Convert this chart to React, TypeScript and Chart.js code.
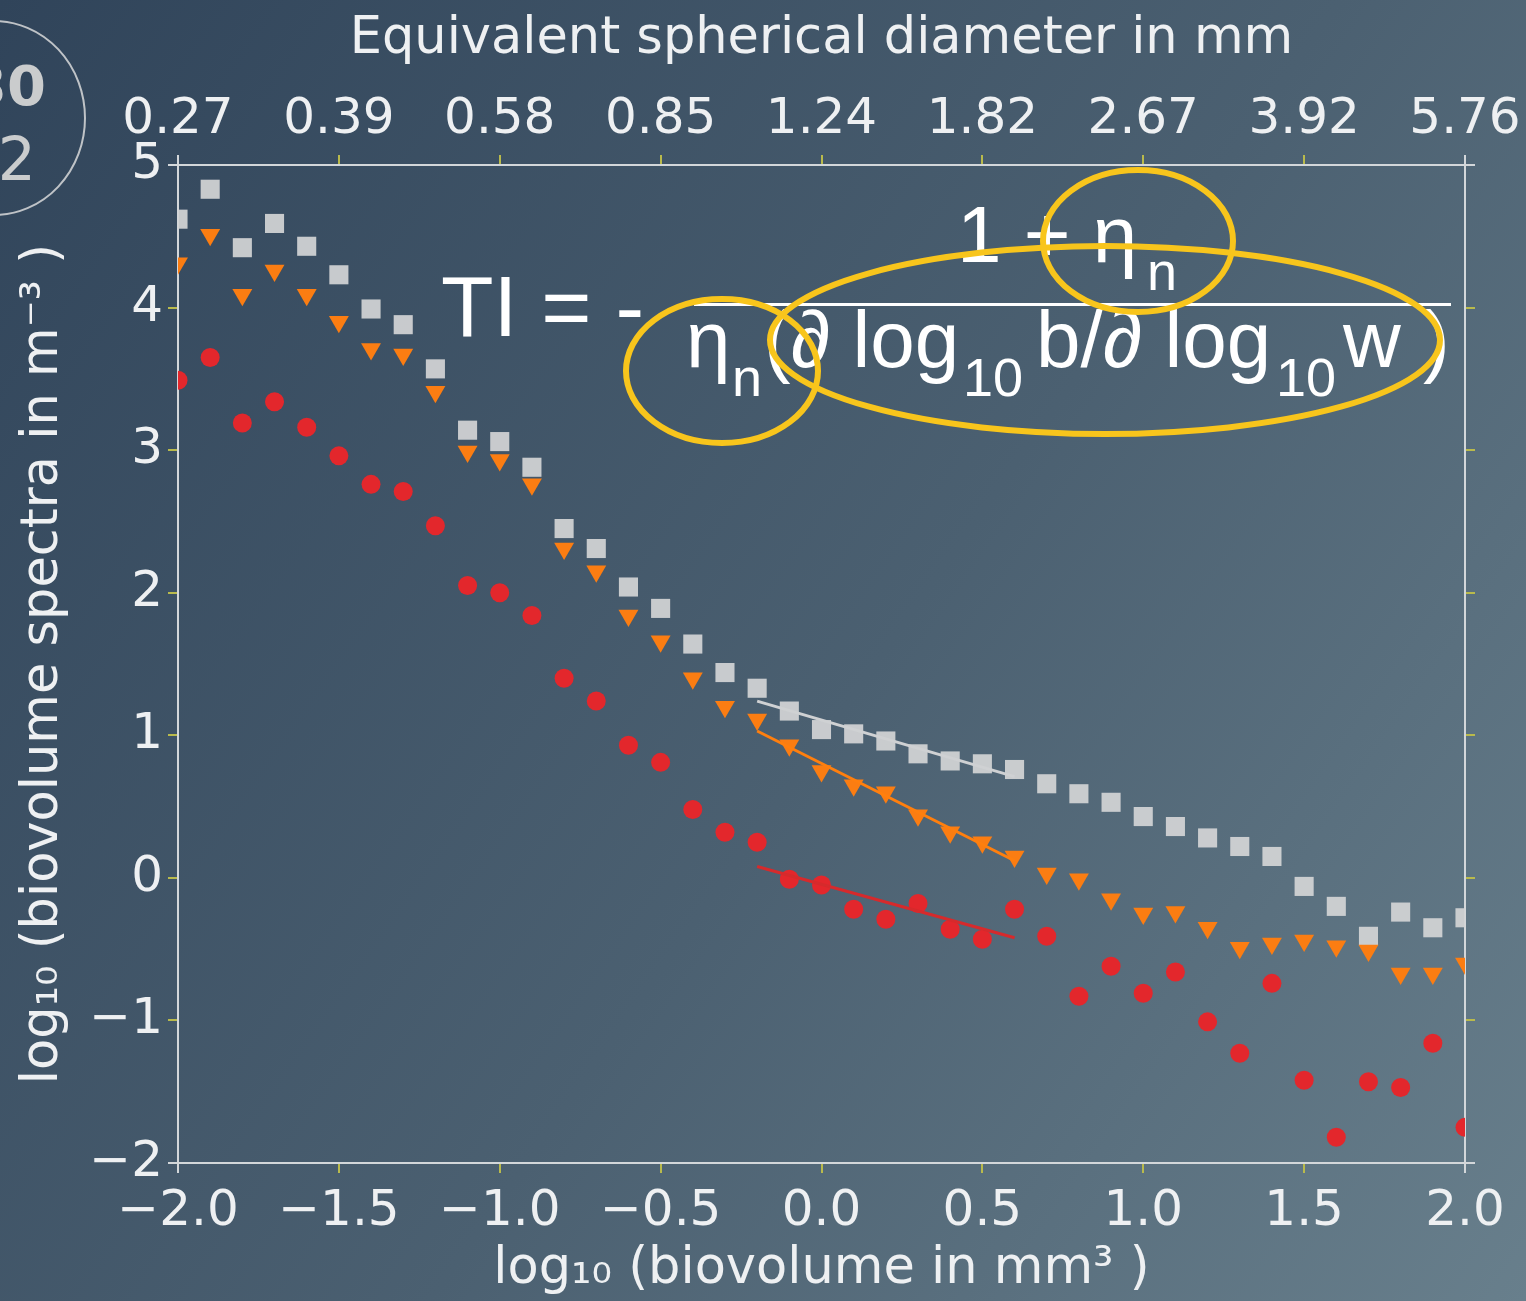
import React, { useEffect, useRef } from "react";
import { Chart, registerables } from "chart.js";

Chart.register(...registerables);

// ---------- data ----------
const xValues = [
  -2.0, -1.9, -1.8, -1.7, -1.6, -1.5, -1.4, -1.3, -1.2, -1.1, -1.0,
  -0.9, -0.8, -0.7, -0.6, -0.5, -0.4, -0.3, -0.2, -0.1, 0.0,
  0.1, 0.2, 0.3, 0.4, 0.5, 0.6, 0.7, 0.8, 0.9, 1.0,
  1.1, 1.2, 1.3, 1.4, 1.5, 1.6, 1.7, 1.8, 1.9, 2.0,
];

const graySeries = [
  4.62, 4.83, 4.42, 4.59, 4.43, 4.23, 3.99, 3.88, 3.57, 3.14, 3.06,
  2.88, 2.45, 2.31, 2.04, 1.89, 1.64, 1.44, 1.33, 1.17, 1.04,
  1.01, 0.96, 0.87, 0.82, 0.80, 0.76, 0.66, 0.59, 0.53, 0.43,
  0.36, 0.28, 0.22, 0.15, -0.06, -0.20, -0.41, -0.24, -0.35, -0.28,
];

const orangeSeries = [
  4.31, 4.51, 4.09, 4.26, 4.09, 3.90, 3.71, 3.67, 3.41, 2.99, 2.93,
  2.76, 2.31, 2.15, 1.84, 1.66, 1.40, 1.20, 1.11, 0.93, 0.75,
  0.65, 0.60, 0.44, 0.32, 0.25, 0.15, 0.03, -0.01, -0.15, -0.25,
  -0.24, -0.35, -0.49, -0.46, -0.44, -0.48, -0.51, -0.67, -0.67, -0.60,
];

const redSeries = [
  3.49, 3.65, 3.19, 3.34, 3.16, 2.96, 2.76, 2.71, 2.47, 2.05, 2.00,
  1.84, 1.40, 1.24, 0.93, 0.81, 0.48, 0.32, 0.25, -0.01, -0.05,
  -0.22, -0.29, -0.18, -0.36, -0.43, -0.22, -0.41, -0.83, -0.62, -0.81,
  -0.66, -1.01, -1.23, -0.74, -1.42, -1.82, -1.43, -1.47, -1.16, -1.75,
];

const fitX = [-0.2, 0.6];
const grayFit = [1.24, 0.71];
const orangeFit = [1.03, 0.12];
const redFit = [0.08, -0.42];

const topTickLabels = ["0.27", "0.39", "0.58", "0.85", "1.24", "1.82", "2.67", "3.92", "5.76"];

const bottomTitle = "log\u2081\u2080 (biovolume in mm\u00b3 )";
const leftTitle = "log\u2081\u2080 (biovolume spectra in m\u207b\u00b3 )";
const topTitle = "Equivalent spherical diameter in mm";

// ---------- helpers ----------
const W = 1526;
const H = 1301;
const TEXT = "#eef0f2";
const SPINE = "#d3d7da";
const TICK_Y = "#b9ba4c";
const FORMULA_FONT = '"Liberation Sans", Arial, sans-serif';

const minusFmt = (v: number, digits: number) => {
  const s = Math.abs(v).toFixed(digits);
  return v < -1e-9 ? "\u2212" + s : s;
};

const pts = (xs: number[], ys: number[]) => xs.map((x, i) => ({ x, y: ys[i] }));

// runs: [text, subscript?, x-start]
function drawRuns(
  ctx: CanvasRenderingContext2D,
  y: number,
  runs: [string, boolean, number][],
  mainSize: number,
  subSize: number,
  subDrop: number
) {
  for (const [t, sub, x] of runs) {
    ctx.font = `${sub ? subSize : mainSize}px ${FORMULA_FONT}`;
    ctx.fillText(t, x, sub ? y + subDrop : y);
  }
}

function ellipse(ctx: CanvasRenderingContext2D, cx: number, cy: number, rx: number, ry: number) {
  ctx.beginPath();
  ctx.ellipse(cx, cy, rx, ry, 0, 0, Math.PI * 2);
  ctx.stroke();
}

const overlayPlugin = {
  id: "overlay",
  afterDraw(chart: any) {
    const ctx: CanvasRenderingContext2D = chart.ctx;
    ctx.save();
    ctx.textBaseline = "alphabetic";
    ctx.textAlign = "left";

    // badge top-left
    ctx.strokeStyle = "#bfc3c7";
    ctx.lineWidth = 2;
    ellipse(ctx, -6, 118, 91, 97);
    ctx.fillStyle = "#cacccd";
    ctx.textAlign = "right";
    ctx.font = 'bold 56px "DejaVu Sans", sans-serif';
    ctx.fillText("30", 46, 105);
    ctx.font = '60px "DejaVu Sans", sans-serif';
    ctx.fillText("2", 36, 180);
    ctx.textAlign = "left";

    // formula
    ctx.fillStyle = "#ffffff";
    ctx.font = `86px ${FORMULA_FONT}`;
    ctx.fillText("TI = -", 441, 336);
    drawRuns(ctx, 262, [["1 + \u03b7", false, 957], ["n", true, 1147]], 80, 54, 28);
    ctx.fillRect(694, 303, 757, 3);
    drawRuns(
      ctx,
      367,
      [
        ["\u03b7", false, 686],
        ["n", true, 732],
        ["(\u2202 log", false, 764],
        ["10", true, 963],
        ["b/\u2202 log", false, 1036],
        ["10", true, 1276],
        ["w )", false, 1343],
      ],
      80,
      54,
      29
    );

    // yellow ellipses
    ctx.strokeStyle = "#f8c51c";
    ctx.lineWidth = 6;
    ellipse(ctx, 1105, 340, 335, 94);
    ellipse(ctx, 1138, 241, 95, 71);
    ellipse(ctx, 722, 371, 96, 72);

    ctx.restore();
  },
};

const tickColor = (c: any) => {
  const n = c.scale && c.scale.ticks ? c.scale.ticks.length : 0;
  return c.index === 0 || c.index === n - 1 ? SPINE : TICK_Y;
};

export default function App() {
  const ref = useRef<HTMLCanvasElement | null>(null);

  useEffect(() => {
    if (!ref.current) return;
    const tickFont = { family: '"DejaVu Sans", sans-serif', size: 50 };
    const titleFont = { family: '"DejaVu Sans", sans-serif', size: 51 };
    const grid = {
      drawOnChartArea: false,
      drawTicks: true,
      tickLength: 10,
      lineWidth: 2,
      color: TICK_Y,
      tickColor,
    };
    const border = { display: true, color: SPINE, width: 2 };

    const chart = new Chart(ref.current, {
      type: "scatter",
      data: {
        datasets: [
          {
            label: "gray fit",
            data: pts(fitX, grayFit),
            showLine: true,
            borderColor: "#cfd1d3",
            borderWidth: 3,
            pointRadius: 0,
            order: 0,
            clip: 0,
          } as any,
          {
            label: "orange fit",
            data: pts(fitX, orangeFit),
            showLine: true,
            borderColor: "#ff7f0e",
            borderWidth: 3,
            pointRadius: 0,
            order: 0,
            clip: 0,
          },
          {
            label: "red fit",
            data: pts(fitX, redFit),
            showLine: true,
            borderColor: "#d62a2c",
            borderWidth: 3,
            pointRadius: 0,
            order: 0,
            clip: 0,
          },
          {
            label: "red",
            data: pts(xValues, redSeries),
            pointStyle: "circle",
            pointRadius: 9.5,
            pointHoverRadius: 9.5,
            backgroundColor: "#e3272c",
            borderColor: "#e3272c",
            borderWidth: 0,
            order: 1,
            clip: 0,
          },
          {
            label: "orange",
            data: pts(xValues, orangeSeries),
            pointStyle: "triangle",
            rotation: 180,
            pointRadius: 11.5,
            pointHoverRadius: 11.5,
            backgroundColor: "#fb7d12",
            borderColor: "#fb7d12",
            borderWidth: 0,
            order: 2,
            clip: 0,
          },
          {
            label: "gray",
            data: pts(xValues, graySeries),
            pointStyle: "rect",
            pointRadius: 13.5,
            pointHoverRadius: 13.5,
            backgroundColor: "rgba(212,213,214,0.92)",
            borderColor: "rgba(212,213,214,0.92)",
            borderWidth: 0,
            order: 3,
            clip: 0,
          },
        ],
      },
      options: {
        responsive: false,
        animation: false,
        devicePixelRatio: 1,
        layout: { padding: 0 },
        plugins: {
          legend: { display: false },
          tooltip: { enabled: false },
          title: { display: false },
        },
        events: [],
        scales: {
          x: {
            type: "linear",
            position: "bottom",
            min: -2,
            max: 2,
            afterFit: (s: any) => {
              s.height = 138;
            },
            ticks: {
              stepSize: 0.5,
              color: TEXT,
              font: tickFont,
              padding: 9,
              maxRotation: 0,
              autoSkip: false,
              callback: (v: any) => minusFmt(Number(v), 1),
            },
            grid,
            border,
            title: {
              display: true,
              text: bottomTitle,
              color: TEXT,
              font: titleFont,
              padding: { top: 0, bottom: 1 },
            },
          },
          xTop: {
            type: "linear",
            axis: "x",
            position: "top",
            min: -2,
            max: 2,
            afterFit: (s: any) => {
              s.height = 165;
            },
            ticks: {
              stepSize: 0.5,
              color: TEXT,
              font: tickFont,
              padding: 5,
              maxRotation: 0,
              autoSkip: false,
              callback: (_v: any, i: number) => topTickLabels[i],
            },
            grid,
            border,
            title: {
              display: true,
              text: topTitle,
              color: TEXT,
              font: titleFont,
              padding: { top: 9, bottom: 0 },
            },
          },
          y: {
            type: "linear",
            position: "left",
            min: -2,
            max: 5,
            afterFit: (s: any) => {
              s.width = 178;
            },
            ticks: {
              stepSize: 1,
              color: TEXT,
              font: tickFont,
              padding: 5,
              callback: (v: any) => minusFmt(Number(v), 0),
            },
            grid,
            border,
            title: {
              display: true,
              text: leftTitle,
              color: TEXT,
              font: titleFont,
              padding: { top: 13, bottom: 0 },
            },
          },
          yRight: {
            type: "linear",
            axis: "y",
            position: "right",
            min: -2,
            max: 5,
            afterFit: (s: any) => {
              s.width = 61;
            },
            ticks: {
              stepSize: 1,
              color: "rgba(0,0,0,0)",
              font: { size: 10 },
            },
            grid,
            border,
          },
        },
      } as any,
      plugins: [overlayPlugin],
    });

    return () => chart.destroy();
  }, []);

  return (
    <div
      style={{
        position: "fixed",
        left: 0,
        top: 0,
        width: W,
        height: H,
        background: "linear-gradient(125deg, #30445a 0%, #4b6071 55%, #687f8c 100%)",
        overflow: "hidden",
      }}
    >
      <canvas ref={ref} width={W} height={H} style={{ width: W, height: H, display: "block" }} />
    </div>
  );
}
